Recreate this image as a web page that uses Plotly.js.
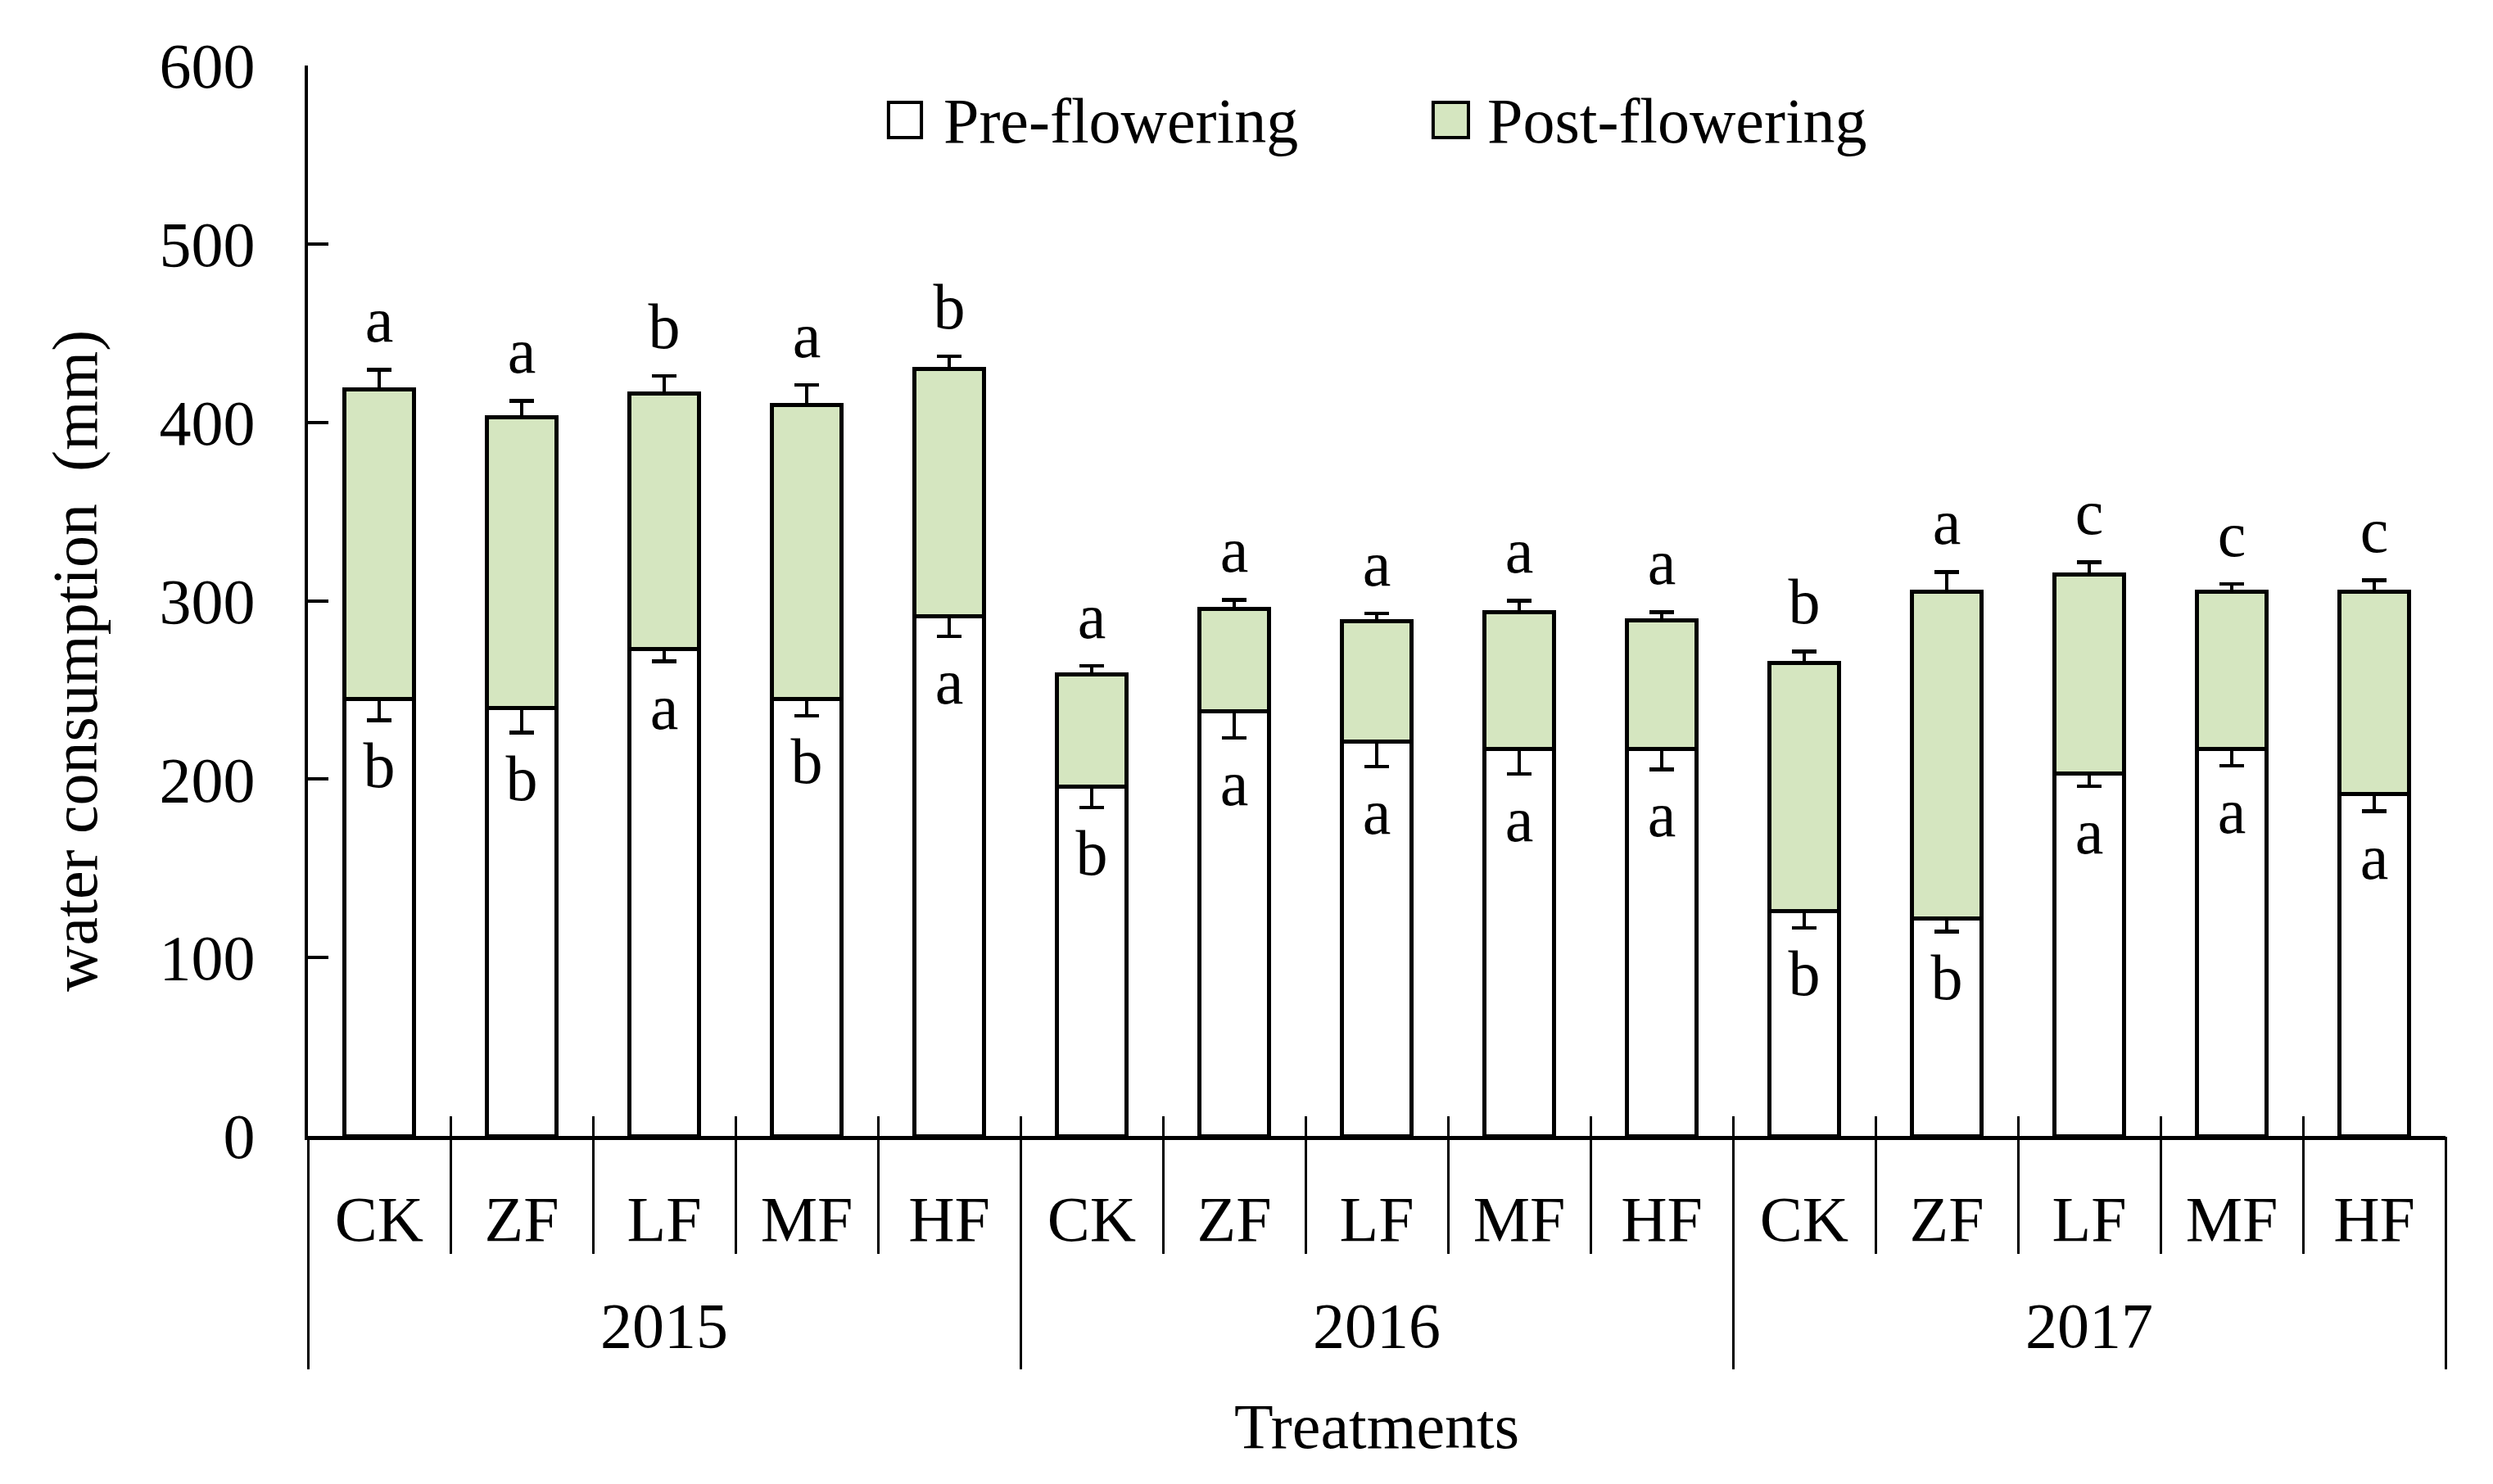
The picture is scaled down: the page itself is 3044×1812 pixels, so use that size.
<!DOCTYPE html>
<html>
<head>
<meta charset="utf-8">
<script src="https://cdn.plot.ly/plotly-3.0.1.min.js"></script>
<style>html,body{margin:0;padding:0;background:#fff;}#chart{width:3044px;height:1812px;}</style>
</head>
<body>
<div id="chart"></div>
<script>
// ---- data ----
var years      = ['2015','2015','2015','2015','2015','2016','2016','2016','2016','2016','2017','2017','2017','2017','2017'];
var treatments = ['CK','ZF','LF','MF','HF','CK','ZF','LF','MF','HF','CK','ZF','LF','MF','HF'];
var preFlowering  = [245, 240, 273, 245, 291.5, 196, 238, 221, 217, 217, 126, 122, 203, 217, 191.5];
var postFlowering = [173.5, 163, 143, 164.5, 138.5, 62.5, 57.5, 67.5, 76.5, 72, 139, 183, 111.5, 88, 113.5];
var preErr  = [12, 14, 7, 9.5, 11.5, 12, 15, 14, 14, 11.5, 9.5, 7.5, 7, 9.5, 9.5];
var postErr = [11, 9, 10, 11.5, 7, 5, 5, 4.5, 6.5, 4.5, 6.5, 11, 7, 4.5, 6.5];
var topLetters    = ['a','a','b','a','b','a','a','a','a','a','b','a','c','c','c'];
var bottomLetters = ['b','b','a','b','a','b','a','a','a','a','b','b','a','a','a'];
var seriesNames = ['Pre-flowering', 'Post-flowering'];
var yTitle = 'water consumption\u00a0\u00a0(mm)';
var xTitle = 'Treatments';

var FONT = 'Liberation Serif, Times New Roman, serif';
var FS = 78;
var GREEN = '#D5E6C0';
var BLACK = '#000';

var n = treatments.length;
var xcat = [years, treatments];
var zeros = preFlowering.map(function(){return 0;});
var totals = preFlowering.map(function(v,i){return v + postFlowering[i];});
var topY = totals.map(function(v,i){return v + postErr[i];});
var botY = preFlowering.map(function(v,i){return v - preErr[i];});

// positions derived from the category arrays
var centers = [], catBounds = [], yearBounds = [-0.5], yearCenters = [], yearText = [];
for (var i = 0; i < n; i++) centers.push(i);
for (var i = 0; i <= n; i++) catBounds.push(i - 0.5);
var start = 0;
for (var i = 1; i <= n; i++) {
  if (i === n || years[i] !== years[i-1]) {
    yearBounds.push(i - 0.5);
    yearCenters.push((start + i - 1) / 2);
    yearText.push(years[start]);
    start = i;
  }
}

function dummy(ax){ return {type:'scatter', mode:'markers', x:[0], y:[null], xaxis:ax, yaxis:'y', hoverinfo:'skip', showlegend:false}; }

var traces = [
  {type:'bar', name:seriesNames[0], x:xcat, y:preFlowering,
   marker:{color:'#ffffff', line:{color:BLACK, width:5}},
   error_y:{type:'data', symmetric:false, array:zeros, arrayminus:preErr, color:BLACK, thickness:4.5, width:15},
   hoverinfo:'y', showlegend:false},
  {type:'bar', name:seriesNames[1], x:xcat, y:postFlowering,
   marker:{color:GREEN, line:{color:BLACK, width:5}},
   error_y:{type:'data', symmetric:false, array:postErr, arrayminus:zeros, color:BLACK, thickness:4.5, width:15},
   hoverinfo:'y', showlegend:false},
  {type:'scatter', mode:'markers+text', x:xcat, y:topY, text:topLetters, textposition:'top center',
   marker:{size:22, opacity:0}, textfont:{family:FONT, size:FS, color:BLACK}, hoverinfo:'skip', showlegend:false},
  {type:'scatter', mode:'markers+text', x:xcat, y:botY, text:bottomLetters, textposition:'bottom center',
   marker:{size:36, opacity:0}, textfont:{family:FONT, size:FS, color:BLACK}, hoverinfo:'skip', showlegend:false},
  dummy('x2'), dummy('x3'), dummy('x4'), dummy('x5'), dummy('x6')
];

var overlayBase = {overlaying:'x', anchor:'y', side:'bottom', range:[-0.5, n - 0.5],
  showgrid:false, zeroline:false, showline:false, tickmode:'array'};
function ov(extra){ var o = {}; for (var k in overlayBase) o[k] = overlayBase[k]; for (var k in extra) o[k] = extra[k]; return o; }

var tickFont = {family:FONT, size:FS, color:BLACK};

var layout = {
  width:3044, height:1812,
  margin:{l:376, r:58, t:80, b:425},
  paper_bgcolor:'#fff', plot_bgcolor:'#fff',
  barmode:'stack', bargap:0.51,
  showlegend:false,
  font:{family:FONT, size:FS, color:BLACK},
  xaxis:{
    type:'multicategory', range:[-0.5, n - 0.5], autorange:false,
    showline:true, linecolor:BLACK, linewidth:5,
    ticks:'', showdividers:false, showticklabels:false,
    showgrid:false, zeroline:false
  },
  // treatment labels
  xaxis2: ov({tickvals:centers, ticktext:treatments, ticks:'', showticklabels:true, tickfont:tickFont, ticklabelstandoff:49}),
  // short separators between treatments (below axis)
  xaxis3: ov({tickvals:catBounds, ticks:'outside', ticklen:143, tickwidth:3, tickcolor:BLACK, showticklabels:false}),
  // long separators between years
  xaxis4: ov({tickvals:yearBounds, ticks:'outside', ticklen:284, tickwidth:3, tickcolor:BLACK, showticklabels:false}),
  // year labels + axis title
  xaxis5: ov({tickvals:yearCenters, ticktext:yearText, ticks:'', showticklabels:true, tickfont:tickFont, ticklabelstandoff:179,
    title:{text:xTitle, font:tickFont, standoff:52}}),
  // short inward ticks at category boundaries
  xaxis6: ov({tickvals:catBounds, ticks:'inside', ticklen:24, tickwidth:3, tickcolor:BLACK, showticklabels:false}),
  yaxis:{
    range:[0,600], dtick:100, tick0:0, showline:true, linecolor:BLACK, linewidth:4,
    ticks:'inside', ticklen:25, tickwidth:4, tickcolor:BLACK,
    showgrid:false, zeroline:false,
    tickfont:tickFont,
    ticklabelstandoff:45
  },
  shapes:[
    {type:'rect', xref:'paper', yref:'paper', x0:0.2716, x1:0.287, y0:0.9327, y1:0.9656, line:{color:BLACK, width:4}, fillcolor:'#fff'},
    {type:'rect', xref:'paper', yref:'paper', x0:0.5264, x1:0.5429, y0:0.9327, y1:0.9656, line:{color:BLACK, width:4}, fillcolor:GREEN}
  ],
  annotations:[
    {xref:'paper', yref:'paper', x:-0.1088, y:0.444, xanchor:'center', yanchor:'middle', textangle:-90, text:yTitle, showarrow:false, font:tickFont},
    {xref:'paper', yref:'paper', x:0.2966, y:0.9487, xanchor:'left', yanchor:'middle', text:seriesNames[0], showarrow:false, font:tickFont},
    {xref:'paper', yref:'paper', x:0.551, y:0.9487, xanchor:'left', yanchor:'middle', text:seriesNames[1], showarrow:false, font:tickFont}
  ]
};

Plotly.newPlot('chart', traces, layout, {staticPlot:true, displayModeBar:false});
</script>
</body>
</html>
